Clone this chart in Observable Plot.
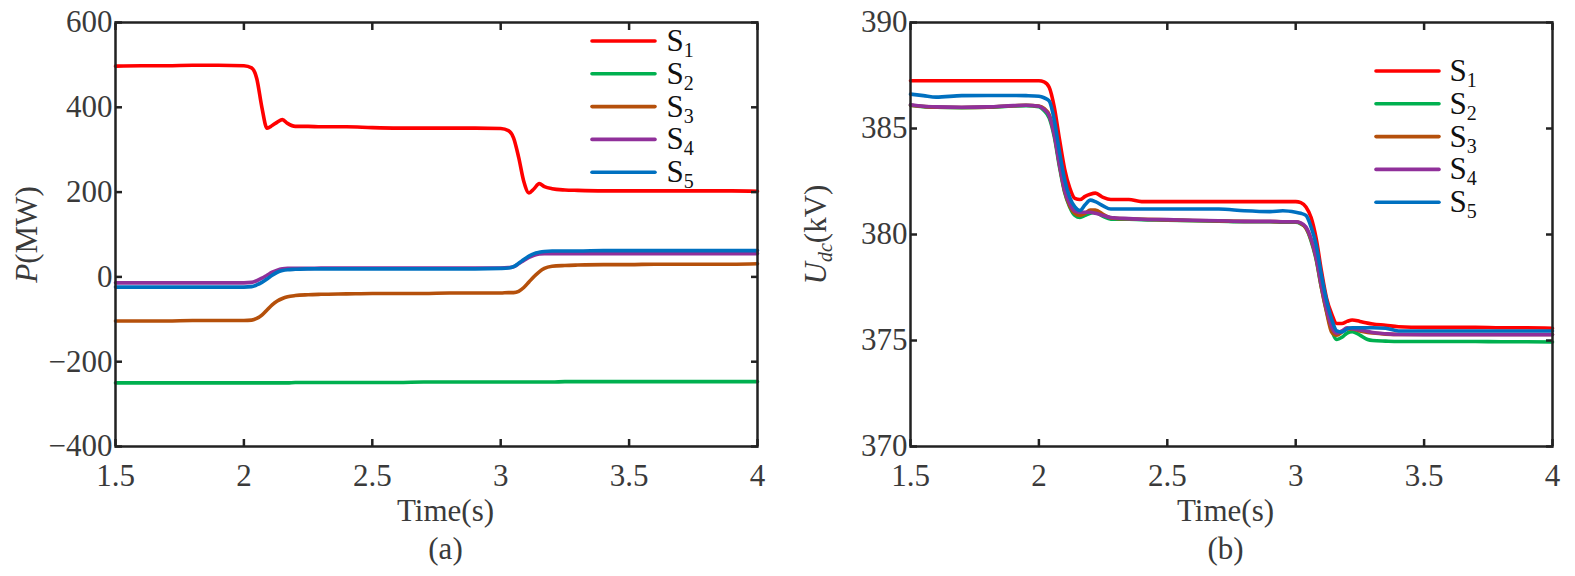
<!DOCTYPE html>
<html><head><meta charset="utf-8">
<script src="https://cdn.jsdelivr.net/npm/d3@7"></script>
<script src="https://cdn.jsdelivr.net/npm/@observablehq/plot@0.6"></script>
<style>
body{margin:0;background:#fff;}
#wrap{position:relative;width:1575px;height:576px;display:flex;}
#wrap svg{overflow:visible;}
#wrap svg text{font-family:"Liberation Serif","Times New Roman",serif !important;}
</style></head><body><div id="wrap"></div>
<script>
const seriesNames = ["S1","S2","S3","S4","S5"];
const seriesColors = ["#ff0000","#00b04f","#b5500b","#90309a","#0070c0"];

const xTicks = [1.5,2,2.5,3,3.5,4];
const xTickLabels = ["1.5","2","2.5","3","3.5","4"];
const yTicksA = [-400,-200,0,200,400,600];
const yTickLabelsA = ["\u2212400","\u2212200","0","200","400","600"];
const yTicksB = [370,375,380,385,390];
const yTickLabelsB = ["370","375","380","385","390"];

// Panel (a): power P (MW)
const timeA = [1.5,1.6,1.7,1.8,1.9,2.0, 2.03,2.05,2.07,2.09,2.11,2.13,2.15,2.17, 2.2,2.25,2.3,2.4, 2.5,2.6,2.7,2.8,2.9,3.0, 3.03,3.05,3.07,3.09,3.11,3.13,3.15,3.17, 3.2,3.25,3.3,3.4, 3.5,3.6,3.7,3.8,3.9,4.0];
const powerS1 = [497,498,498,499,499,498, 493,468,400,351,357,365,371,362, 355,355,354,354, 352,351,351,351,351,350, 345,328,282,225,198,208,220,213, 208,205,204,203, 203,203,203,203,203,202];
const powerS2 = [-250,-250,-250,-250,-250,-250, -250,-250,-250,-250,-250,-250,-250,-250, -249,-249,-249,-249, -249,-249,-248,-248,-248,-248, -248,-248,-248,-248,-248,-248,-248,-248, -248,-247,-247,-247, -247,-247,-247,-247,-247,-247];
const powerS3 = [-104,-104,-104,-103,-103,-103, -102,-98,-90,-78,-66,-57,-51,-47, -44,-42,-41,-40, -39,-39,-39,-38,-38,-38, -37,-37,-34,-25,-12,1,12,20, 25,27,28,29, 29,30,30,30,30,31];
const powerS4 = [-14,-14,-14,-14,-14,-14, -13,-9,-3,4,11,16,19,20, 20,20,21,21, 21,21,21,21,21,21, 22,24,31,39,46,51,54,55, 55,55,55,55, 55,55,55,55,55,55];
const powerS5 = [-24,-24,-24,-24,-24,-24, -23,-19,-13,-5,4,11,15,17, 18,19,19,19, 19,19,19,19,19,20, 21,24,32,41,49,55,58,60, 61,61,61,62, 62,62,62,62,62,62];

// Panel (b): DC voltage Udc (kV)
const timeB = [1.5,1.55,1.6,1.7,1.8,1.9,1.95,2.0, 2.02,2.04,2.06,2.08,2.1,2.12,2.14,2.16,2.18,2.2,2.22, 2.25,2.28,2.3,2.35,2.4, 2.5,2.6,2.7,2.8,2.9,2.95,3.0, 3.02,3.04,3.06,3.08,3.1,3.12,3.14,3.16,3.18,3.2,3.22, 3.25,3.28,3.3,3.35,3.4, 3.5,3.6,3.7,3.8,3.9,4.0];
const voltS1 = [387.25,387.25,387.25,387.25,387.25,387.25,387.25,387.25, 387.2,386.95,386.0,384.5,383.1,382.2,381.7,381.65,381.8,381.9,381.95, 381.75,381.65,381.65,381.65,381.55, 381.55,381.55,381.55,381.55,381.55,381.55,381.55, 381.5,381.3,380.8,379.8,378.3,377.0,376.25,375.8,375.8,375.9,375.97, 375.9,375.82,375.78,375.72,375.65, 375.62,375.62,375.62,375.6,375.6,375.58];
const voltS2 = [386.1,386.03,386.0,385.98,386.0,386.06,386.08,386.03, 385.85,385.5,384.6,383.2,382.0,381.3,380.9,380.8,380.9,381.0,381.05, 380.85,380.72,380.72,380.72,380.7, 380.68,380.65,380.63,380.6,380.6,380.58,380.58, 380.5,380.3,379.7,378.8,377.5,376.4,375.5,375.05,375.15,375.35,375.42, 375.25,375.05,375.0,374.97,374.95, 374.95,374.95,374.95,374.94,374.94,374.93];
const voltS3 = [386.1,386.04,386.0,385.99,386.01,386.07,386.1,386.06, 385.95,385.65,384.75,383.3,382.05,381.35,381.0,380.9,381.0,381.15,381.15, 380.95,380.78,380.76,380.74,380.72, 380.69,380.66,380.64,380.62,380.61,380.6,380.6, 380.52,380.3,379.75,378.85,377.5,376.35,375.4,375.25,375.4,375.55,375.55, 375.45,375.38,375.35,375.3,375.28, 375.28,375.28,375.28,375.28,375.28,375.28];
const voltS4 = [386.12,386.05,386.02,386.0,386.02,386.08,386.1,386.05, 385.9,385.6,384.7,383.3,382.1,381.45,381.1,381.05,381.05,381.05,381.0, 380.9,380.8,380.78,380.75,380.72, 380.7,380.67,380.65,380.62,380.62,380.6,380.6, 380.55,380.35,379.8,378.9,377.6,376.5,375.65,375.35,375.45,375.6,375.55, 375.5,375.43,375.38,375.32,375.28, 375.27,375.27,375.27,375.27,375.27,375.27];
const voltS5 = [386.62,386.55,386.48,386.55,386.56,386.56,386.55,386.52, 386.45,386.3,385.4,383.9,382.6,381.75,381.3,381.13,381.4,381.62,381.55, 381.35,381.2,381.2,381.2,381.2, 381.2,381.2,381.2,381.12,381.08,381.12,381.05, 381.0,380.9,380.35,379.5,378.1,376.9,376.0,375.45,375.4,375.55,375.6, 375.6,375.6,375.6,375.58,375.45, 375.45,375.45,375.45,375.45,375.45,375.45];

const FONT = '"Liberation Serif","Times New Roman",serif';

function toRows(time, list) {
  const rows = [];
  list.forEach((vals, k) => vals.forEach((v, i) => rows.push({t: time[i], v, s: seriesNames[k]})));
  return rows;
}

function panel(o) {
  const tickStyle = {stroke: "#222", strokeWidth: 2.5, fill: "#3a3a3a", label: null, fontSize: 31};
  const svg = Plot.plot({
    width: o.width, height: 576,
    marginLeft: o.marginLeft, marginRight: o.marginRight, marginTop: 22, marginBottom: 130,
    style: {fontFamily: FONT, fontSize: "31px", background: "white", color: "#333"},
    x: {domain: [1.5, 4]},
    y: {domain: o.yDomain},
    color: {domain: seriesNames, range: seriesColors},
    marks: [
      Plot.lineY(o.rows, {x: "t", y: "v", stroke: "s", z: "s", strokeWidth: 3.6, curve: "monotone-x"}),
      Plot.frame({stroke: "#222", strokeWidth: 2.5}),
      Plot.axisX({...tickStyle, anchor: "bottom", ticks: xTicks, tickSize: -7, tickPadding: 24,
        tickFormat: d => xTickLabels[xTicks.indexOf(d)]}),
      Plot.axisX({...tickStyle, anchor: "top", ticks: xTicks, tickSize: -7, tickFormat: () => ""}),
      Plot.axisY({...tickStyle, anchor: "left", ticks: o.yTicks, tickSize: -7, tickPadding: 10,
        tickFormat: d => o.yLabels[o.yTicks.indexOf(d)]}),
      Plot.axisY({...tickStyle, anchor: "right", ticks: o.yTicks, tickSize: -7, tickFormat: () => ""}),
      Plot.text(["Time(s)"], {frameAnchor: "bottom", dy: 65, dx: o.labelDx, lineAnchor: "middle", fill: "#3a3a3a", fontSize: 31}),
      Plot.text([o.panelLabel], {frameAnchor: "bottom", dy: 103, dx: o.labelDx, lineAnchor: "middle", fill: "#3a3a3a", fontSize: 31}),
      Plot.text([o.yLabelPlain], {frameAnchor: "left", dx: o.yLabelDx, rotate: -90, textAnchor: "middle", lineAnchor: "middle", fill: "#3a3a3a", fontSize: 31})
    ]
  });
  svg.querySelectorAll("text").forEach(t => {
    t.style.fontFamily = FONT;
    if (t.textContent === o.yLabelPlain) t.innerHTML = o.yLabelRich;
  });
  const g = d3.select(svg).append("g").attr("fill", "#111");
  seriesNames.forEach((name, i) => {
    const y = o.legY + i * 32.8;
    g.append("line").attr("x1", o.legX1).attr("x2", o.legX2).attr("y1", y).attr("y2", y)
      .attr("stroke", seriesColors[i]).attr("stroke-width", 3.6).attr("stroke-linecap", "round");
    const tx = g.append("text").attr("x", o.legText).attr("y", y + 10).attr("font-size", 31)
      .style("font-family", FONT);
    tx.append("tspan").text(name[0]);
    tx.append("tspan").attr("font-size", 20).attr("dy", 6).text(name.slice(1));
  });
  return svg;
}

const wrap = document.getElementById("wrap");
wrap.appendChild(panel({
  rows: toRows(timeA, [powerS1, powerS2, powerS3, powerS4, powerS5]),
  width: 787, marginLeft: 115, marginRight: 30,
  yDomain: [-400, 600], yTicks: yTicksA, yLabels: yTickLabelsA,
  yLabelPlain: "P(MW)", yLabelRich: '<tspan font-style="italic">P</tspan>(MW)', yLabelDx: -88,
  panelLabel: "(a)", labelDx: 9,
  legX1: 592, legX2: 655, legText: 680, legY: 41
}));
wrap.appendChild(panel({
  rows: toRows(timeB, [voltS1, voltS2, voltS3, voltS4, voltS5]),
  width: 788, marginLeft: 123, marginRight: 23,
  yDomain: [370, 390], yTicks: yTicksB, yLabels: yTickLabelsB,
  yLabelPlain: "Udc(kV)", yLabelRich: '<tspan font-style="italic">U</tspan><tspan font-style="italic" font-size="20" dy="6">dc</tspan><tspan dy="-6">(kV)</tspan>', yLabelDx: -94,
  panelLabel: "(b)", labelDx: -6,
  legX1: 589, legX2: 652, legText: 676, legY: 71
}));
</script></body></html>
